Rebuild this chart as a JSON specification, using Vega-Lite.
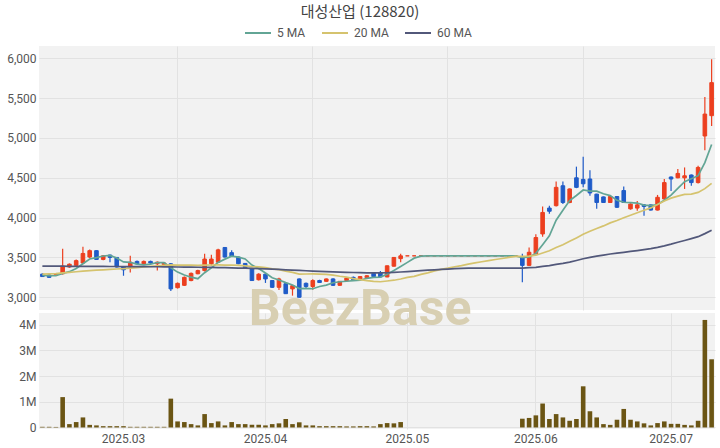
{
  "$schema": "https://vega.github.io/schema/vega-lite/v6.json",
  "background": "white",
  "padding": {"left": 5, "right": 5, "top": 5, "bottom": 5},
  "bounds": "flush",
  "title": {"text": "대성산업 (128820)", "font": "Noto Sans CJK KR", "fontSize": 15, "fontWeight": "normal", "color": "#444444", "anchor": "middle", "offset": -1},
  "datasets": {
    "d": [
      {"d":"2025-02-13","o":3290,"h":3300,"l":3255,"c":3260,"v":25000,"5 MA":3275,"20 MA":3290,"60 MA":3392},
      {"d":"2025-02-14","o":3280,"h":3290,"l":3245,"c":3250,"v":25000,"5 MA":3270,"20 MA":3293,"60 MA":3391},
      {"d":"2025-02-17","o":3285,"h":3295,"l":3275,"c":3290,"v":20000,"5 MA":3272,"20 MA":3297,"60 MA":3390},
      {"d":"2025-02-18","o":3295,"h":3610,"l":3285,"c":3390,"v":1180000,"5 MA":3300,"20 MA":3305,"60 MA":3390},
      {"d":"2025-02-19","o":3380,"h":3425,"l":3370,"c":3415,"v":130000,"5 MA":3321,"20 MA":3312,"60 MA":3389},
      {"d":"2025-02-20","o":3400,"h":3475,"l":3390,"c":3460,"v":210000,"5 MA":3361,"20 MA":3320,"60 MA":3389},
      {"d":"2025-02-21","o":3430,"h":3635,"l":3420,"c":3550,"v":390000,"5 MA":3421,"20 MA":3328,"60 MA":3388},
      {"d":"2025-02-24","o":3505,"h":3600,"l":3490,"c":3585,"v":100000,"5 MA":3480,"20 MA":3335,"60 MA":3388},
      {"d":"2025-02-25","o":3585,"h":3590,"l":3470,"c":3475,"v":80000,"5 MA":3497,"20 MA":3340,"60 MA":3387},
      {"d":"2025-02-26","o":3475,"h":3530,"l":3465,"c":3520,"v":50000,"5 MA":3518,"20 MA":3345,"60 MA":3387},
      {"d":"2025-02-27","o":3530,"h":3535,"l":3440,"c":3500,"v":50000,"5 MA":3526,"20 MA":3350,"60 MA":3386},
      {"d":"2025-02-28","o":3500,"h":3505,"l":3375,"c":3380,"v":50000,"5 MA":3492,"20 MA":3355,"60 MA":3386},
      {"d":"2025-03-03","o":3380,"h":3390,"l":3270,"c":3345,"v":50000,"5 MA":3444,"20 MA":3360,"60 MA":3385},
      {"d":"2025-03-04","o":3380,"h":3520,"l":3310,"c":3440,"v":25000,"5 MA":3437,"20 MA":3367,"60 MA":3385},
      {"d":"2025-03-05","o":3450,"h":3460,"l":3415,"c":3420,"v":25000,"5 MA":3417,"20 MA":3373,"60 MA":3384},
      {"d":"2025-03-06","o":3420,"h":3460,"l":3415,"c":3450,"v":25000,"5 MA":3407,"20 MA":3380,"60 MA":3384},
      {"d":"2025-03-07","o":3450,"h":3460,"l":3420,"c":3430,"v":25000,"5 MA":3417,"20 MA":3387,"60 MA":3383},
      {"d":"2025-03-10","o":3420,"h":3450,"l":3335,"c":3440,"v":25000,"5 MA":3436,"20 MA":3393,"60 MA":3383},
      {"d":"2025-03-11","o":3410,"h":3440,"l":3400,"c":3430,"v":25000,"5 MA":3434,"20 MA":3400,"60 MA":3382},
      {"d":"2025-03-12","o":3420,"h":3430,"l":3080,"c":3105,"v":1120000,"5 MA":3371,"20 MA":3407,"60 MA":3381},
      {"d":"2025-03-13","o":3120,"h":3185,"l":3110,"c":3175,"v":235000,"5 MA":3316,"20 MA":3403,"60 MA":3380},
      {"d":"2025-03-14","o":3150,"h":3260,"l":3140,"c":3250,"v":210000,"5 MA":3280,"20 MA":3403,"60 MA":3379},
      {"d":"2025-03-17","o":3210,"h":3310,"l":3200,"c":3300,"v":130000,"5 MA":3252,"20 MA":3403,"60 MA":3378},
      {"d":"2025-03-18","o":3295,"h":3345,"l":3290,"c":3335,"v":80000,"5 MA":3233,"20 MA":3400,"60 MA":3377},
      {"d":"2025-03-19","o":3335,"h":3545,"l":3325,"c":3480,"v":520000,"5 MA":3308,"20 MA":3404,"60 MA":3376},
      {"d":"2025-03-20","o":3420,"h":3535,"l":3400,"c":3480,"v":170000,"5 MA":3369,"20 MA":3405,"60 MA":3375},
      {"d":"2025-03-21","o":3440,"h":3610,"l":3430,"c":3595,"v":235000,"5 MA":3438,"20 MA":3407,"60 MA":3373},
      {"d":"2025-03-24","o":3625,"h":3630,"l":3500,"c":3505,"v":80000,"5 MA":3479,"20 MA":3403,"60 MA":3371},
      {"d":"2025-03-25","o":3560,"h":3590,"l":3505,"c":3515,"v":210000,"5 MA":3515,"20 MA":3405,"60 MA":3369},
      {"d":"2025-03-26","o":3505,"h":3510,"l":3415,"c":3420,"v":130000,"5 MA":3503,"20 MA":3400,"60 MA":3367},
      {"d":"2025-03-27","o":3425,"h":3430,"l":3365,"c":3370,"v":130000,"5 MA":3481,"20 MA":3393,"60 MA":3365},
      {"d":"2025-03-28","o":3355,"h":3360,"l":3205,"c":3210,"v":105000,"5 MA":3404,"20 MA":3385,"60 MA":3362},
      {"d":"2025-03-31","o":3220,"h":3300,"l":3210,"c":3290,"v":105000,"5 MA":3361,"20 MA":3382,"60 MA":3359},
      {"d":"2025-04-01","o":3290,"h":3300,"l":3180,"c":3230,"v":80000,"5 MA":3304,"20 MA":3372,"60 MA":3356},
      {"d":"2025-04-02","o":3210,"h":3215,"l":3115,"c":3125,"v":130000,"5 MA":3245,"20 MA":3357,"60 MA":3353},
      {"d":"2025-04-03","o":3125,"h":3245,"l":3090,"c":3230,"v":160000,"5 MA":3217,"20 MA":3346,"60 MA":3349},
      {"d":"2025-04-04","o":3170,"h":3175,"l":3040,"c":3045,"v":330000,"5 MA":3184,"20 MA":3327,"60 MA":3345},
      {"d":"2025-04-07","o":3105,"h":3150,"l":3020,"c":3145,"v":130000,"5 MA":3155,"20 MA":3312,"60 MA":3341},
      {"d":"2025-04-08","o":3230,"h":3235,"l":2995,"c":3000,"v":200000,"5 MA":3109,"20 MA":3290,"60 MA":3337},
      {"d":"2025-04-09","o":3175,"h":3185,"l":3110,"c":3135,"v":80000,"5 MA":3111,"20 MA":3292,"60 MA":3333},
      {"d":"2025-04-10","o":3135,"h":3225,"l":3095,"c":3210,"v":80000,"5 MA":3107,"20 MA":3294,"60 MA":3329},
      {"d":"2025-04-11","o":3210,"h":3220,"l":3180,"c":3185,"v":50000,"5 MA":3135,"20 MA":3290,"60 MA":3326},
      {"d":"2025-04-14","o":3200,"h":3235,"l":3195,"c":3230,"v":50000,"5 MA":3152,"20 MA":3287,"60 MA":3322},
      {"d":"2025-04-15","o":3230,"h":3240,"l":3140,"c":3150,"v":50000,"5 MA":3182,"20 MA":3278,"60 MA":3319},
      {"d":"2025-04-16","o":3150,"h":3205,"l":3145,"c":3200,"v":50000,"5 MA":3195,"20 MA":3264,"60 MA":3316},
      {"d":"2025-04-17","o":3210,"h":3245,"l":3205,"c":3240,"v":40000,"5 MA":3201,"20 MA":3252,"60 MA":3313},
      {"d":"2025-04-18","o":3250,"h":3260,"l":3210,"c":3220,"v":40000,"5 MA":3208,"20 MA":3233,"60 MA":3311},
      {"d":"2025-04-21","o":3230,"h":3265,"l":3225,"c":3260,"v":50000,"5 MA":3214,"20 MA":3221,"60 MA":3309},
      {"d":"2025-04-22","o":3245,"h":3275,"l":3240,"c":3270,"v":50000,"5 MA":3238,"20 MA":3208,"60 MA":3307},
      {"d":"2025-04-23","o":3300,"h":3305,"l":3255,"c":3260,"v":40000,"5 MA":3250,"20 MA":3200,"60 MA":3306},
      {"d":"2025-04-24","o":3310,"h":3330,"l":3250,"c":3255,"v":130000,"5 MA":3253,"20 MA":3195,"60 MA":3306},
      {"d":"2025-04-25","o":3255,"h":3400,"l":3250,"c":3395,"v":170000,"5 MA":3288,"20 MA":3204,"60 MA":3308},
      {"d":"2025-04-28","o":3390,"h":3505,"l":3385,"c":3500,"v":160000,"5 MA":3336,"20 MA":3214,"60 MA":3312},
      {"d":"2025-04-29","o":3485,"h":3545,"l":3440,"c":3520,"v":210000,"5 MA":3386,"20 MA":3229,"60 MA":3317},
      {"d":"2025-05-02","o":3520,"h":3520,"l":3520,"c":3520,"v":0,"5 MA":3438,"20 MA":3249,"60 MA":3322},
      {"d":"2025-05-07","o":3520,"h":3520,"l":3520,"c":3520,"v":0,"5 MA":3491,"20 MA":3263,"60 MA":3328},
      {"d":"2025-05-08","o":3520,"h":3520,"l":3520,"c":3520,"v":0,"5 MA":3516,"20 MA":3287,"60 MA":3334},
      {"d":"2025-05-09","o":3520,"h":3520,"l":3520,"c":3520,"v":0,"5 MA":3520,"20 MA":3306,"60 MA":3340},
      {"d":"2025-05-12","o":3520,"h":3520,"l":3520,"c":3520,"v":0,"5 MA":3520,"20 MA":3332,"60 MA":3345},
      {"d":"2025-05-13","o":3520,"h":3520,"l":3520,"c":3520,"v":0,"5 MA":3520,"20 MA":3351,"60 MA":3350},
      {"d":"2025-05-14","o":3520,"h":3520,"l":3520,"c":3520,"v":0,"5 MA":3520,"20 MA":3366,"60 MA":3354},
      {"d":"2025-05-15","o":3520,"h":3520,"l":3520,"c":3520,"v":0,"5 MA":3520,"20 MA":3383,"60 MA":3359},
      {"d":"2025-05-16","o":3520,"h":3520,"l":3520,"c":3520,"v":0,"5 MA":3520,"20 MA":3398,"60 MA":3362},
      {"d":"2025-05-19","o":3520,"h":3520,"l":3520,"c":3520,"v":0,"5 MA":3520,"20 MA":3416,"60 MA":3365},
      {"d":"2025-05-20","o":3520,"h":3520,"l":3520,"c":3520,"v":0,"5 MA":3520,"20 MA":3432,"60 MA":3366},
      {"d":"2025-05-21","o":3520,"h":3520,"l":3520,"c":3520,"v":0,"5 MA":3520,"20 MA":3446,"60 MA":3367},
      {"d":"2025-05-22","o":3520,"h":3520,"l":3520,"c":3520,"v":0,"5 MA":3520,"20 MA":3461,"60 MA":3367},
      {"d":"2025-05-23","o":3520,"h":3520,"l":3520,"c":3520,"v":0,"5 MA":3520,"20 MA":3474,"60 MA":3366},
      {"d":"2025-05-26","o":3520,"h":3520,"l":3520,"c":3520,"v":0,"5 MA":3520,"20 MA":3487,"60 MA":3367},
      {"d":"2025-05-27","o":3520,"h":3520,"l":3520,"c":3520,"v":0,"5 MA":3520,"20 MA":3500,"60 MA":3367},
      {"d":"2025-05-28","o":3520,"h":3520,"l":3520,"c":3520,"v":0,"5 MA":3520,"20 MA":3513,"60 MA":3367},
      {"d":"2025-05-29","o":3510,"h":3545,"l":3190,"c":3400,"v":340000,"5 MA":3496,"20 MA":3513,"60 MA":3367},
      {"d":"2025-05-30","o":3400,"h":3625,"l":3395,"c":3565,"v":370000,"5 MA":3505,"20 MA":3516,"60 MA":3371},
      {"d":"2025-06-02","o":3545,"h":3790,"l":3540,"c":3750,"v":470000,"5 MA":3551,"20 MA":3528,"60 MA":3376},
      {"d":"2025-06-03","o":3795,"h":4140,"l":3760,"c":4065,"v":930000,"5 MA":3660,"20 MA":3555,"60 MA":3387},
      {"d":"2025-06-04","o":4120,"h":4150,"l":4050,"c":4080,"v":330000,"5 MA":3772,"20 MA":3583,"60 MA":3397},
      {"d":"2025-06-05","o":4150,"h":4455,"l":4140,"c":4380,"v":520000,"5 MA":3968,"20 MA":3626,"60 MA":3413},
      {"d":"2025-06-09","o":4400,"h":4455,"l":4170,"c":4190,"v":390000,"5 MA":4093,"20 MA":3660,"60 MA":3426},
      {"d":"2025-06-10","o":4190,"h":4365,"l":4180,"c":4360,"v":260000,"5 MA":4215,"20 MA":3702,"60 MA":3441},
      {"d":"2025-06-11","o":4500,"h":4640,"l":4370,"c":4380,"v":330000,"5 MA":4278,"20 MA":3745,"60 MA":3462},
      {"d":"2025-06-12","o":4480,"h":4765,"l":4380,"c":4425,"v":1600000,"5 MA":4347,"20 MA":3790,"60 MA":3483},
      {"d":"2025-06-13","o":4485,"h":4595,"l":4275,"c":4310,"v":630000,"5 MA":4333,"20 MA":3829,"60 MA":3501},
      {"d":"2025-06-16","o":4295,"h":4300,"l":4110,"c":4190,"v":390000,"5 MA":4333,"20 MA":3863,"60 MA":3516},
      {"d":"2025-06-17","o":4260,"h":4265,"l":4185,"c":4190,"v":130000,"5 MA":4299,"20 MA":3896,"60 MA":3530},
      {"d":"2025-06-18","o":4190,"h":4270,"l":4185,"c":4265,"v":100000,"5 MA":4276,"20 MA":3934,"60 MA":3543},
      {"d":"2025-06-19","o":4265,"h":4270,"l":4120,"c":4130,"v":300000,"5 MA":4217,"20 MA":3964,"60 MA":3554},
      {"d":"2025-06-20","o":4340,"h":4390,"l":4185,"c":4190,"v":720000,"5 MA":4193,"20 MA":3998,"60 MA":3564},
      {"d":"2025-06-23","o":4110,"h":4180,"l":4100,"c":4170,"v":300000,"5 MA":4189,"20 MA":4030,"60 MA":3575},
      {"d":"2025-06-24","o":4120,"h":4210,"l":4085,"c":4160,"v":235000,"5 MA":4183,"20 MA":4062,"60 MA":3586},
      {"d":"2025-06-25","o":4160,"h":4170,"l":4025,"c":4140,"v":160000,"5 MA":4158,"20 MA":4093,"60 MA":3598},
      {"d":"2025-06-26","o":4160,"h":4165,"l":4090,"c":4095,"v":80000,"5 MA":4151,"20 MA":4122,"60 MA":3610},
      {"d":"2025-06-27","o":4095,"h":4285,"l":4090,"c":4255,"v":170000,"5 MA":4164,"20 MA":4165,"60 MA":3627},
      {"d":"2025-06-30","o":4235,"h":4485,"l":4225,"c":4440,"v":235000,"5 MA":4218,"20 MA":4208,"60 MA":3646},
      {"d":"2025-07-01","o":4510,"h":4515,"l":4335,"c":4485,"v":140000,"5 MA":4283,"20 MA":4245,"60 MA":3667},
      {"d":"2025-07-02","o":4500,"h":4610,"l":4495,"c":4555,"v":140000,"5 MA":4366,"20 MA":4270,"60 MA":3691},
      {"d":"2025-07-03","o":4500,"h":4630,"l":4360,"c":4525,"v":100000,"5 MA":4452,"20 MA":4292,"60 MA":3713},
      {"d":"2025-07-04","o":4535,"h":4540,"l":4400,"c":4440,"v":80000,"5 MA":4489,"20 MA":4295,"60 MA":3736},
      {"d":"2025-07-07","o":4440,"h":4650,"l":4430,"c":4630,"v":260000,"5 MA":4527,"20 MA":4317,"60 MA":3761},
      {"d":"2025-07-08","o":5025,"h":5515,"l":4845,"c":5300,"v":4180000,"5 MA":4690,"20 MA":4364,"60 MA":3799},
      {"d":"2025-07-09","o":5280,"h":5990,"l":5150,"c":5695,"v":2650000,"5 MA":4918,"20 MA":4430,"60 MA":3842}
    ]
  },
  "data": {"name": "d"},
  "spacing": 3,
  "vconcat": [
    {
      "width": 676,
      "height": 264,
      "view": {"fill": "#f2f2f2", "stroke": null},
      "encoding": {
        "x": {
          "field": "d", "type": "ordinal",
          "scale": {"type": "band", "paddingInner": 0, "paddingOuter": 0},
          "axis": {"values": ["2025-03-13", "2025-04-10", "2025-05-14", "2025-06-12"], "labels": false, "ticks": false, "domain": false, "grid": true, "title": null, "minExtent": 0, "maxExtent": 0}
        }
      },
      "layer": [
        {
          "mark": {"type": "rule", "strokeWidth": 1.2},
          "encoding": {
            "y": {"field": "l", "type": "quantitative", "scale": {"domain": [2840, 6155], "nice": false, "zero": false},
                  "axis": {"values": [3000, 3500, 4000, 4500, 5000, 5500, 6000], "title": null, "minExtent": 34, "maxExtent": 34, "labelPadding": 3, "labelOverlap": false}},
            "y2": {"field": "h"},
            "color": {"condition": {"test": "datum.c >= datum.o", "value": "#ec3f1f"}, "value": "#1f5bc8"}
          }
        },
        {
          "mark": {"type": "bar", "width": 3.6, "strokeWidth": 1},
          "encoding": {
            "y": {"field": "o", "type": "quantitative"},
            "y2": {"field": "c"},
            "color": {"condition": {"test": "datum.c >= datum.o", "value": "#ec3f1f"}, "value": "#1f5bc8"},
            "stroke": {"condition": {"test": "datum.c >= datum.o", "value": "#ec3f1f"}, "value": "#1f5bc8"}
          }
        },
        {
          "transform": [{"fold": ["5 MA", "20 MA", "60 MA"], "as": ["ma", "val"]}],
          "mark": {"type": "line", "strokeWidth": 1.7},
          "encoding": {
            "y": {"field": "val", "type": "quantitative"},
            "color": {
              "field": "ma", "type": "nominal",
              "scale": {"domain": ["5 MA", "20 MA", "60 MA"], "range": ["#62a595", "#d5c36e", "#52587a"]},
              "legend": {"orient": "none", "legendX": 205, "legendY": -27, "direction": "horizontal", "title": null,
                         "symbolType": "stroke", "symbolSize": 676, "symbolStrokeWidth": 2,
                         "labelFontSize": 12, "labelColor": "#555555", "labelFont": "Roboto",
                         "columnPadding": 12, "labelOffset": 5, "padding": 0}
            }
          }
        }
      ]
    },
    {
      "width": 676,
      "height": 116,
      "view": {"fill": "#f2f2f2", "stroke": null},
      "encoding": {
        "x": {
          "field": "d", "type": "ordinal",
          "scale": {"type": "band", "paddingInner": 0, "paddingOuter": 0},
          "axis": {"values": ["2025-03-03", "2025-04-01", "2025-05-02", "2025-06-02", "2025-07-01"],
                   "labelExpr": "replace(slice(datum.value, 0, 7), '-', '.')", "labelAngle": 0,
                   "ticks": false, "domain": false, "grid": true, "title": null, "labelPadding": 4}
        }
      },
      "layer": [
        {
          "mark": {"type": "bar", "width": 4.6, "color": "#6b5514"},
          "encoding": {
            "y": {"field": "v", "type": "quantitative", "scale": {"domain": [-60000, 4450000], "nice": false, "zero": false},
                  "axis": {"values": [0, 1000000, 2000000, 3000000, 4000000], "labelExpr": "datum.value == 0 ? '0' : (datum.value / 1000000) + 'M'", "title": null, "minExtent": 34, "maxExtent": 34, "labelPadding": 3, "labelOverlap": false}},
            "y2": {"datum": 0}
          }
        },
        {
          "data": {"values": [{}]},
          "mark": {"type": "text", "text": "BeezBase", "font": "Roboto", "fontWeight": "bold", "fontSize": 50, "color": "#d8cfb2", "align": "center", "baseline": "middle"},
          "encoding": {
            "x": {"datum": "2025-04-21"},
            "y": {"datum": 4550000, "type": "quantitative",
                  "axis": {"values": [0, 1000000, 2000000, 3000000, 4000000], "labelExpr": "datum.value == 0 ? '0' : (datum.value / 1000000) + 'M'", "title": null, "minExtent": 34, "maxExtent": 34, "labelPadding": 3, "labelOverlap": false}}
          }
        }
      ]
    }
  ],
  "config": {
    "view": {"stroke": null},
    "axis": {"labelFont": "Roboto", "labelFontSize": 12, "labelColor": "#555555", "gridColor": "#e2e2e2", "gridWidth": 1, "domain": false, "ticks": false}
  }
}
